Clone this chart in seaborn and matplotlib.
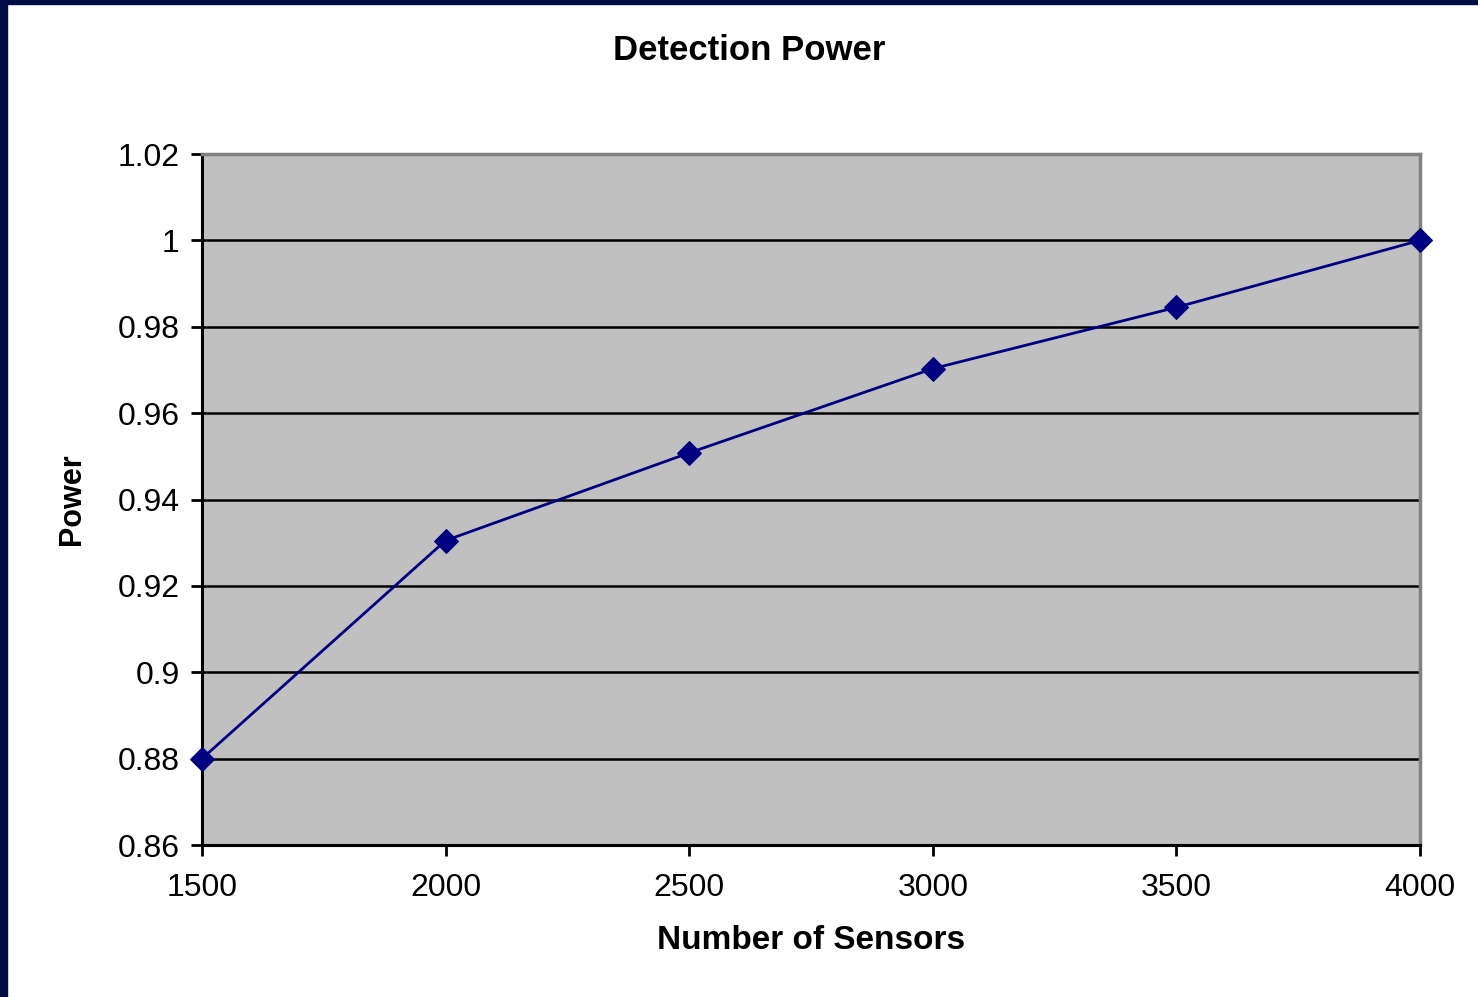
import numpy as np
import pandas as pd
import matplotlib
matplotlib.use("Agg")
import matplotlib.pyplot as plt
import seaborn as sns
from matplotlib.patches import Rectangle

sensors = [1500, 2000, 2500, 3000, 3500, 4000]
power = [0.880, 0.9305, 0.9508, 0.9703, 0.9845, 1.000]
x_ticks = [1500, 2000, 2500, 3000, 3500, 4000]
y_ticks = [0.86, 0.88, 0.90, 0.92, 0.94, 0.96, 0.98, 1.00, 1.02]
y_labels = ["0.86", "0.88", "0.9", "0.92", "0.94", "0.96", "0.98", "1", "1.02"]

df = pd.DataFrame({"Number of Sensors": sensors, "Power": power})

sns.set_style("white")
plt.rcParams['font.family'] = ['Liberation Sans', 'DejaVu Sans']
plt.rcParams['text.color'] = 'black'
plt.rcParams['axes.labelcolor'] = 'black'

fig = plt.figure(figsize=(14.78, 9.97), dpi=100)
fig.patch.set_facecolor("white")
ax = fig.add_axes([202/1478, 1 - 845/997, (1420-202)/1478, (845-154)/997])
ax.set_facecolor("#C0C0C0")

# navy frame on the left and top edges
fig.patches.append(Rectangle((0, 0), 7/1478, 1, transform=fig.transFigure,
                             color="#000C45", zorder=10))
fig.patches.append(Rectangle((0, 1 - 4/997), 1, 4/997, transform=fig.transFigure,
                             color="#000C45", zorder=10))

for yv in y_ticks[1:-1]:
    ax.axhline(yv, color="black", linewidth=1.8, zorder=1)

sns.lineplot(data=df, x="Number of Sensors", y="Power", ax=ax, color="#000080",
             linewidth=2, marker="D", markersize=12, markeredgecolor="#000080",
             zorder=3, clip_on=False)

ax.set_xlim(1500, 4000)
ax.set_ylim(0.86, 1.02)
ax.set_xticks(x_ticks)
ax.set_xticklabels([str(v) for v in x_ticks])
ax.set_yticks(y_ticks)
ax.set_yticklabels(y_labels)
ax.tick_params(axis="both", which="both", direction="out", length=8, width=2,
               colors="black", labelsize=23, bottom=True, left=True)
ax.tick_params(axis="x", pad=12)
ax.tick_params(axis="y", pad=8)

for side in ["left", "bottom"]:
    ax.spines[side].set_color("black")
    ax.spines[side].set_linewidth(2.2)
for side in ["top", "right"]:
    ax.spines[side].set_color("#808080")
    ax.spines[side].set_linewidth(2.5)

ax.set_xlabel("Number of Sensors", fontsize=24, fontweight="bold", labelpad=16)
ax.set_ylabel("Power", fontsize=22, fontweight="bold", labelpad=22)
fig.text(749/1478, 1 - 51/997, "Detection Power", fontsize=25, fontweight="bold",
         ha="center", va="center")

fig.savefig("out.png", dpi=100)
